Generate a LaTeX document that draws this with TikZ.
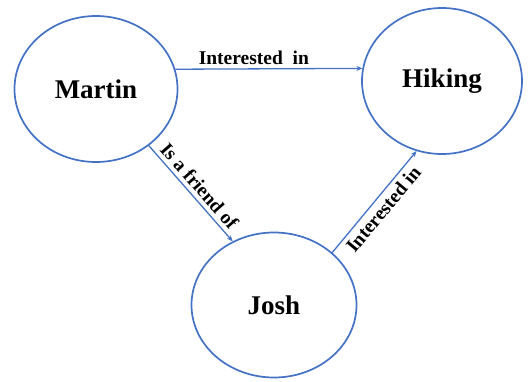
\documentclass[tikz,border=0pt]{standalone}
\usepackage{fontspec}
\setmainfont{Liberation Serif}
\usetikzlibrary{arrows.meta,shapes.geometric}
\definecolor{kgblue}{HTML}{4472C4}

\begin{document}
\begin{tikzpicture}[
x=1pt,y=-1pt,
ent/.style={ellipse,draw=kgblue,line width=1.7pt,inner sep=0pt,
font=\fontsize{27}{31}\selectfont\bfseries},
rel/.style={font=\fontsize{19.5}{22}\selectfont\bfseries,inner sep=4pt},
arr/.style={-{Stealth[length=6pt,width=5pt]},draw=kgblue,line width=1.3pt}
]
\useasboundingbox (0,0) rectangle (531,381);
\node[ent,minimum width=163pt,minimum height=146pt] (martin) at (96,89)  {Martin};
\node[ent,minimum width=160pt,minimum height=146pt] (hiking) at (442,81) {Hiking};
\node[ent,minimum width=165pt,minimum height=145pt] (josh)   at (274,305) {Josh};

\draw[arr] (martin.14)  -- (hiking.171) node[rel,pos=0.42,above] {Interested\ \ in};
\draw[arr] (martin.-47) -- (josh.123)   node[rel,midway,above,sloped] {Is a friend of};
\draw[arr] (josh.42)    -- (hiking.250) node[rel,midway,below,sloped] {Interested in};
\end{tikzpicture}
\end{document}
